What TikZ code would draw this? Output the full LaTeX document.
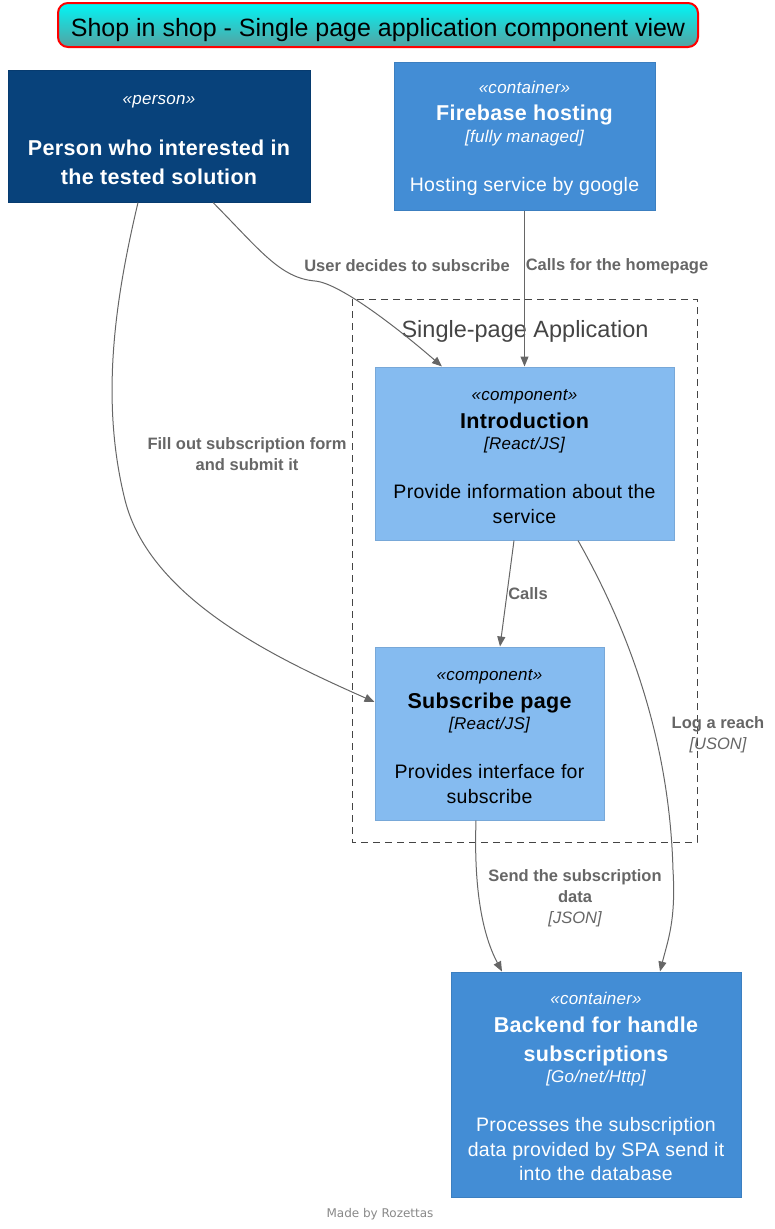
\documentclass[tikz,border=0pt]{standalone}
\usepackage{fontspec}
\setmainfont{Liberation Sans}
\newfontfamily\descfont[LetterSpace=1.5]{Liberation Sans}
\newfontfamily\footfont{DejaVu Sans}
\usepackage{tikz}
\usetikzlibrary{arrows.meta,positioning}

\definecolor{personfill}{HTML}{08427B}
\definecolor{personline}{HTML}{073B6F}
\definecolor{contfill}{HTML}{438DD5}
\definecolor{contline}{HTML}{3C7FC0}
\definecolor{compfill}{HTML}{85BBF0}
\definecolor{compline}{HTML}{78A8D8}
\definecolor{relgray}{HTML}{666666}
\definecolor{boundgray}{HTML}{444444}
\definecolor{titletop}{HTML}{00F7F7}
\definecolor{titlebottom}{HTML}{55A0A0}
\definecolor{footgray}{HTML}{888888}

\newcommand{\stereo}[1]{{\itshape\fontsize{17}{24.5}\selectfont\rule{0pt}{17pt}«#1»}}
\newcommand{\elname}[1]{{\bfseries\fontsize{21.5}{28}\selectfont #1}}
\newcommand{\eltech}[1]{{\itshape\fontsize{17}{24.5}\selectfont [#1]}}

\begin{document}
\begin{tikzpicture}[x=1pt,y=-1pt,>={Triangle[length=10pt,width=8pt]},
	box/.style={draw,line width=1pt,align=center,inner sep=0pt,font=\descfont\fontsize{19.5}{24.5}\selectfont},
	person/.style={box,fill=personfill,draw=personline,text=white},
	container/.style={box,fill=contfill,draw=contline,text=white},
	component/.style={box,fill=compfill,draw=compline,text=black},
	rel/.style={->,color=relgray,line width=1pt},
	rellabel/.style={text=relgray,align=center,inner sep=0pt,font=\bfseries\fontsize{16.5}{21}\selectfont},
	]
	\useasboundingbox (0,0) rectangle (775,1229);

	% title
	\node [draw=red,line width=2pt,rounded corners=10pt,top color=titletop,bottom color=titlebottom,
		minimum width=640pt,minimum height=44pt,inner sep=0pt,text height=23pt,text depth=0pt,
		font=\fontsize{25}{30}\selectfont]
		(title) at (378,25) {Shop in shop - Single page application component view};

	% boundary
	\draw [boundgray,dash pattern=on 7pt off 5pt] (352,299) rectangle (697,842);
	\node [text=boundgray,font=\fontsize{23.5}{28}\selectfont] (spa) at (525,331) {Single-page Application};

	% elements
	\node [person,minimum width=302pt,minimum height=132pt]	(person)	at (159,136)
		{\stereo{person}\\[26.5pt] \elname{Person who interested in}\\[4.5pt] \elname{the tested solution}};
	\node [container,minimum width=261pt,minimum height=148pt]	(fire)	at (524.5,136)
		{\stereo{container}\\[3pt] \elname{Firebase hosting}\\[-3pt] \eltech{fully managed}\\[24.5pt] Hosting service by google};
	\node [component,minimum width=299pt,minimum height=173pt]	(intro)	at (524.5,453.5)
		{\stereo{component}\\[3pt] \elname{Introduction}\\[-3pt] \eltech{React/JS}\\[24.5pt] Provide information about the\\ service};
	\node [component,minimum width=229pt,minimum height=173pt]	(sub)	at (489.5,733.5)
		{\stereo{component}\\[3pt] \elname{Subscribe page}\\[-3pt] \eltech{React/JS}\\[24.5pt] Provides interface for\\ subscribe};
	\node [container,minimum width=290pt,minimum height=225pt]	(back)	at (596,1084.5)
		{\stereo{container}\\[3pt] \elname{Backend for handle}\\[4.5pt] \elname{subscriptions}\\[-3pt] \eltech{Go/net/Http}\\[24.5pt] Processes the subscription\\ data provided by SPA send it\\ into the database};

	% relations
	\draw [rel] ([xshift=54pt]person.south) .. controls (260,250) and (280,278) .. (315,281)
		.. controls (340,283) and (400,330) .. ([xshift=-82.5pt]intro.north);
	\draw [rel] (fire) -- (intro);
	\draw [rel] ([xshift=-21pt]person.south) .. controls (115,300) and (100,400) .. (125,500)
		.. controls (150,600) and (280,660) .. ([yshift=31.5pt]sub.west);
	\draw [rel] ([xshift=-10.5pt]intro.south) -- ([xshift=10.5pt]sub.north);
	\draw [rel] ([xshift=53.5pt]intro.south) .. controls (640,650) and (670,760) .. (673,870)
		.. controls (676,920) and (668,940) .. ([xshift=64pt]back.north);
	\draw [rel] ([xshift=-13.5pt]sub.south) .. controls (474,880) and (480,930) .. ([xshift=-94pt]back.north);

	% labels
	\node [rellabel]	(l1)	at (407,266)	{User decides to subscribe};
	\node [rellabel]	(l2)	at (617,266)	{Calls for the homepage};
	\node [rellabel]	(l3)	at (247,454.5)	{Fill out subscription form\\ and submit it};
	\node [rellabel]	(l4)	at (528,594)	{Calls};
	\node [rellabel]	(l5)	at (718,734.5)	{Log a reach\\ {\mdseries\itshape [USON]}};
	\node [rellabel]	(l6)	at (575,898.5)	{Send the subscription\\ data\\ {\mdseries\itshape [JSON]}};

	% footer
	\node [text=footgray,font=\footfont\fontsize{12}{14}\selectfont] (foot) at (380,1214) {Made by Rozettas};
\end{tikzpicture}
\end{document}
